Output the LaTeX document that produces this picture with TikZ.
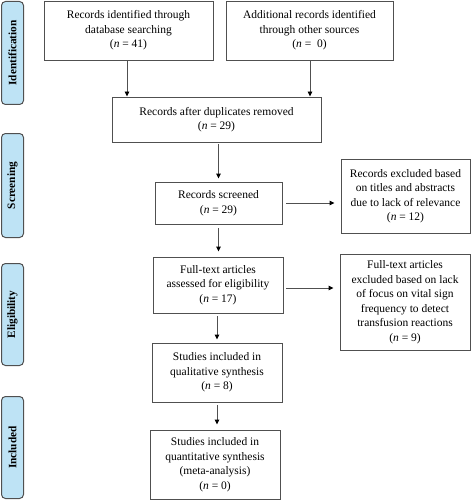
\documentclass[tikz,border=0pt]{standalone}
\usepackage{fontspec}
\setmainfont{Liberation Serif}
\usetikzlibrary{arrows.meta}
\definecolor{barfill}{HTML}{BEE3F5}
\definecolor{lineg}{HTML}{505050}
\begin{document}
\begin{tikzpicture}[x=1pt,y=-1pt,
  box/.style={draw=lineg,line width=0.9pt,rectangle,align=center,inner sep=2pt,
    font=\fontsize{11.5}{14.5}\selectfont},
  phase/.style={draw=lineg,line width=1pt,fill=barfill,rounded corners=4pt,
    minimum width=22pt,inner sep=0pt,anchor=north west},
  phaselabel/.style={rotate=90,font=\bfseries\fontsize{11.3}{13}\selectfont},
  arr/.style={draw=lineg,line width=0.9pt,-{Triangle[length=5pt,width=4.5pt,black]}}]
\useasboundingbox (0,0) rectangle (471,500);
% phase bars
\node[phase,minimum height=103pt] (pid) at (1,1) {};
\node[phaselabel] (lid) at (pid.center) {Identification};
\node[phase,minimum height=104pt] (psc) at (1,133) {};
\node[phaselabel] (lsc) at (psc.center) {Screening};
\node[phase,minimum height=102pt] (pel) at (1,263) {};
\node[phaselabel] (lel) at (pel.center) {Eligibility};
\node[phase,minimum height=102pt] (pin) at (1,396) {};
\node[phaselabel] (lin) at (pin.center) {Included};
% boxes
\node[box,minimum width=169pt,minimum height=59pt] (b1) at (128.5,30.5)
  {Records identified through\\database searching\\(\textit{n} = 41)};
\node[box,minimum width=167pt,minimum height=59pt] (b2) at (309.5,30.5)
  {Additional records identified\\through other sources\\(\textit{n} =~~0)};
\node[box,minimum width=209pt,minimum height=45pt] (b3) at (216.5,119.5)
  {Records after duplicates removed\\(\textit{n} = 29)};
\node[box,minimum width=127pt,minimum height=42pt] (b4) at (218.5,203)
  {Records screened\\(\textit{n} = 29)};
\node[box,minimum width=129pt,minimum height=74pt] (b5) at (405.5,196)
  {Records excluded based\\on titles and abstracts\\due to lack of relevance\\(\textit{n} = 12)};
\node[box,minimum width=130pt,minimum height=56pt] (b6) at (218,285)
  {Full-text articles\\assessed for eligibility\\(\textit{n} = 17)};
\node[box,minimum width=130pt,minimum height=96pt] (b7) at (405,302)
  {Full-text articles\\excluded based on lack\\of focus on vital sign\\frequency to detect\\transfusion reactions\\(\textit{n} = 9)};
\node[box,minimum width=130pt,minimum height=59pt] (b8) at (217,372.5)
  {Studies included in\\qualitative synthesis\\(\textit{n} = 8)};
\node[box,minimum width=130pt,minimum height=69pt] (b9) at (215,464.5)
  {Studies included in\\quantitative synthesis\\(meta-analysis)\\(\textit{n} = 0)};
% arrows
\draw[arr] ([xshift=-1.5pt]b1.south) -- ([xshift=-1.5pt]b1.south |- b3.north);
\draw[arr] ([xshift=0.5pt]b2.south) -- ([xshift=0.5pt]b2.south |- b3.north);
\draw[arr,shorten <=2pt,shorten >=3pt] (b4.north |- b3.south) -- (b4.north);
\draw[arr,shorten <=4pt,shorten >=5pt] (b4.south) -- (b4.south |- b6.north);
\draw[arr,shorten <=3pt,shorten >=3pt] ([xshift=-1pt]b6.south) -- ([xshift=-1pt]b6.south |- b8.north);
\draw[arr,shorten <=3pt,shorten >=5pt] (b8.south) -- (b8.south |- b9.north);
\draw[arr,shorten <=4pt,shorten >=6pt] (b4.east) -- (b4.east -| b5.west);
\draw[arr,shorten <=3pt,shorten >=6pt] ([yshift=-3pt]b6.east) -- ([yshift=-3pt]b6.east -| b7.west);
\end{tikzpicture}
\end{document}
